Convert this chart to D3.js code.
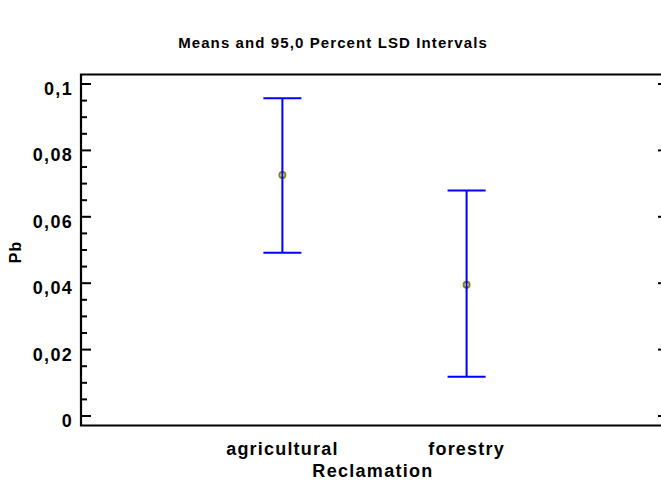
<!DOCTYPE html>
<html>
<head>
<meta charset="utf-8">
<script src="https://cdn.jsdelivr.net/npm/d3@7"></script>
<style>
  html, body { margin: 0; padding: 0; background: #fff; }
  svg { display: block; }
  text { font-family: "Liberation Sans", Arial, sans-serif; font-weight: bold; fill: #000; }
</style>
</head>
<body>
<svg id="chart" width="661" height="483"></svg>
<script>
const categories = ['agricultural', 'forestry'];
const means = [0.0726, 0.0395];
const lower = [0.0492, 0.0118];
const upper = [0.0957, 0.0679];
const yTicks = [0, 0.02, 0.04, 0.06, 0.08, 0.1];
const yTickLabels = ['0', '0,02', '0,04', '0,06', '0,08', '0,1'];

const W = 661, H = 483;
const frame = { left: 81, right: 664, top: 74.5, bottom: 425.5 };

const svg = d3.select('#chart');

const x = d3.scalePoint()
  .domain(categories)
  .range([frame.left, frame.right])
  .padding(1.0825)
  .align(0.505);

const y = d3.scaleLinear()
  .domain([0, 0.1])
  .range([416, 84]);

// frame (left, top, bottom)
svg.append('path')
  .attr('d', `M${frame.right},${frame.top}H${frame.left}V${frame.bottom}H${frame.right}`)
  .attr('fill', 'none')
  .attr('stroke', '#000')
  .attr('stroke-width', 2.2);

// minor ticks every 0.005
const minor = d3.range(0, 0.1001, 0.005).filter(v => Math.abs(v * 50 - Math.round(v * 50)) > 1e-6);
svg.append('g').selectAll('line').data(minor).join('line')
  .attr('x1', frame.left).attr('x2', frame.left + 6)
  .attr('y1', d => y(d)).attr('y2', d => y(d))
  .attr('stroke', '#000').attr('stroke-width', 2);

// major ticks left + right
svg.append('g').selectAll('line').data(yTicks).join('line')
  .attr('x1', frame.left).attr('x2', frame.left + 10)
  .attr('y1', d => y(d)).attr('y2', d => y(d))
  .attr('stroke', '#000').attr('stroke-width', 2);
svg.append('g').selectAll('line').data(yTicks).join('line')
  .attr('x1', 658).attr('x2', 661)
  .attr('y1', d => y(d)).attr('y2', d => y(d))
  .attr('stroke', '#000').attr('stroke-width', 2);

// tick labels
svg.append('g').selectAll('text').data(yTicks).join('text')
  .attr('x', 73).attr('y', d => y(d) + 11)
  .attr('text-anchor', 'end')
  .attr('font-size', 18)
  .attr('letter-spacing', 1.3)
  .text((d, i) => yTickLabels[i]);

svg.append('g').selectAll('text').data(categories).join('text')
  .attr('x', d => x(d)).attr('y', 455)
  .attr('text-anchor', 'middle')
  .attr('font-size', 18)
  .attr('letter-spacing', 1.2)
  .text(d => d);

// axis titles
svg.append('text')
  .attr('x', 373).attr('y', 477)
  .attr('text-anchor', 'middle')
  .attr('font-size', 18)
  .attr('letter-spacing', 1.3)
  .text('Reclamation');

svg.append('text')
  .attr('transform', 'translate(21,252) rotate(-90)')
  .attr('text-anchor', 'middle')
  .attr('font-size', 16)
  .attr('letter-spacing', 1)
  .text('Pb');

svg.append('text')
  .attr('x', 333).attr('y', 48)
  .attr('text-anchor', 'middle')
  .attr('font-size', 15)
  .attr('letter-spacing', 1.1)
  .text('Means and 95,0 Percent LSD Intervals');

// mean markers
const idx = d3.range(categories.length);
svg.append('g').selectAll('circle').data(idx).join('circle')
  .attr('cx', i => x(categories[i]))
  .attr('cy', i => y(means[i]))
  .attr('r', 3)
  .attr('fill', 'none')
  .attr('stroke', '#8a8a00')
  .attr('stroke-width', 2);

// LSD intervals
const g = svg.append('g').attr('stroke', '#0000ff').attr('stroke-width', 2).attr('fill', 'none');
g.selectAll('path').data(idx).join('path')
  .attr('d', i => {
    const cx = x(categories[i]), t = y(upper[i]), b = y(lower[i]);
    return `M${cx - 19},${t}H${cx + 19}M${cx},${t}V${b}M${cx - 19},${b}H${cx + 19}`;
  });
</script>
</body>
</html>
